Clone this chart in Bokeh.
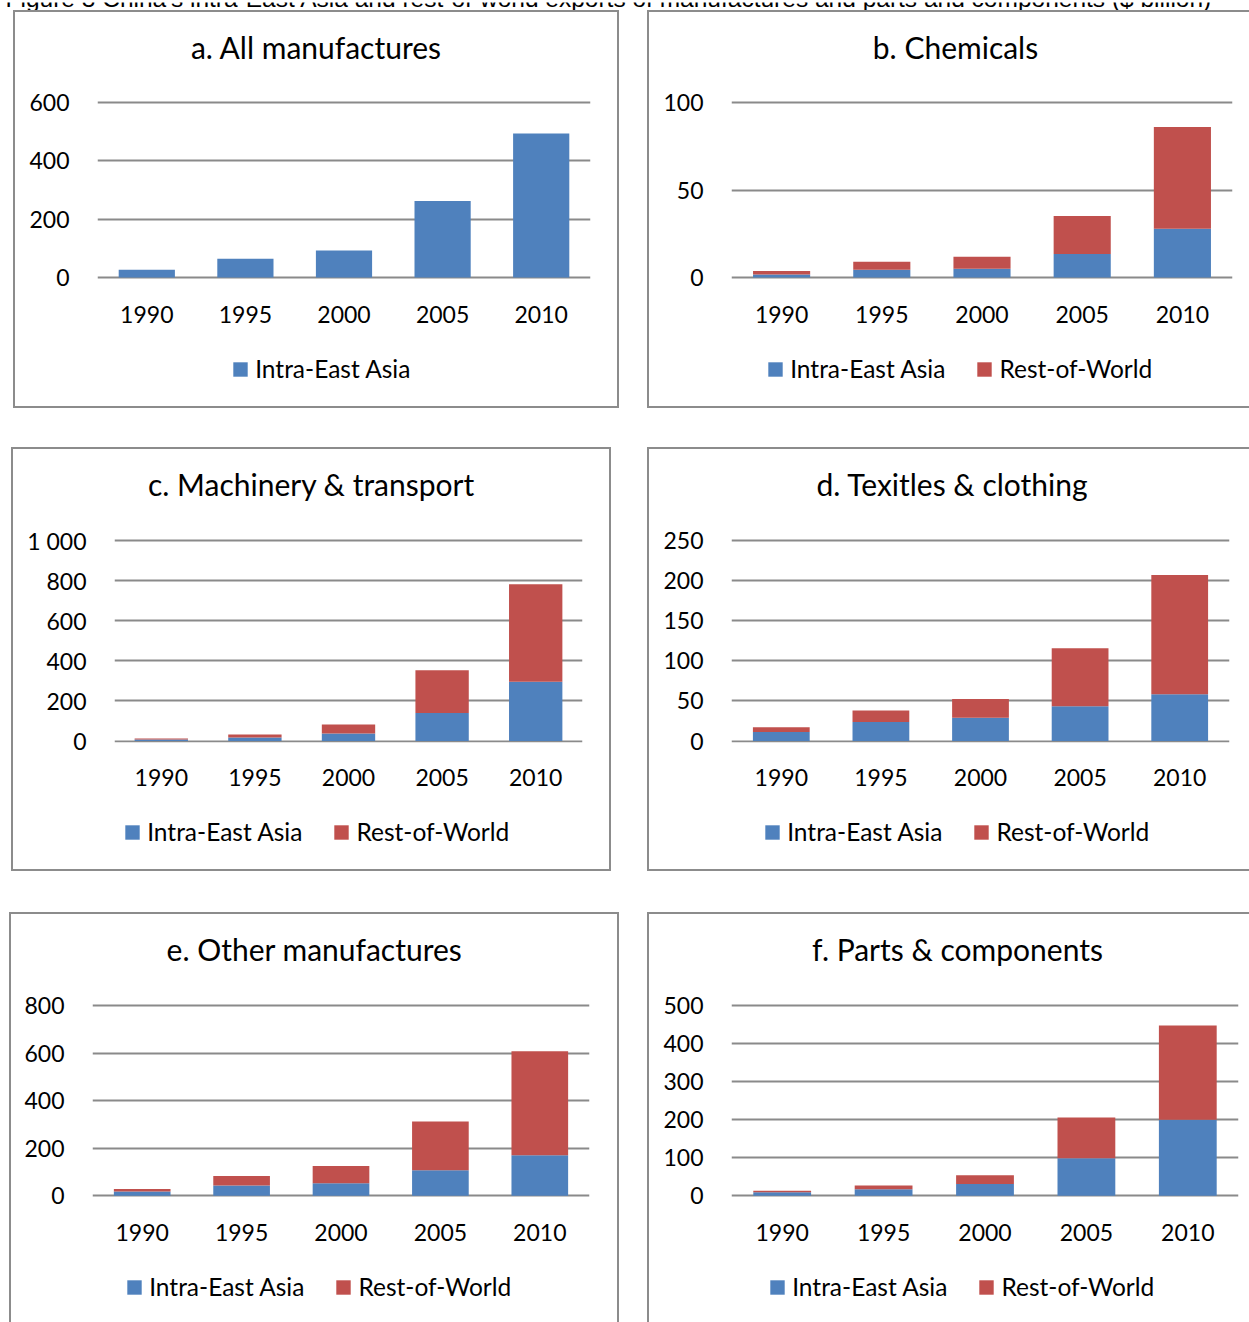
from bokeh.plotting import figure
from bokeh.layouts import column, row
from bokeh.models import (ColumnDataSource, FactorRange, Range1d, FixedTicker,
                          Legend, LegendItem, Spacer)
from bokeh.embed import file_html
from bokeh.resources import INLINE
from bokeh.core.properties import value

# ---------------------------------------------------------------- data ($ billion)
years = ["1990", "1995", "2000", "2005", "2010"]

all_intra = [27, 64, 93, 262, 494]

chem_intra = [1.7, 4.4, 5.0, 13.5, 27.8]
chem_row = [2.0, 4.6, 6.8, 21.6, 58.2]

mach_intra = [7, 17, 37, 140, 296]
mach_row = [5, 15, 45, 213, 486]

text_intra = [11.2, 23.7, 29.1, 43.3, 58.2]
text_row = [5.9, 14.2, 23.3, 72.3, 148.8]

other_intra = [18, 43, 53, 108, 171]
other_row = [11, 40, 72, 205, 438]

parts_intra = [9.5, 17, 31, 99, 200]
parts_row = [3.5, 10, 23, 107, 248]

series_names = ["Intra-East Asia", "Rest-of-World"]

ticks_all = [0, 200, 400, 600]
ticks_chem = [0, 50, 100]
ticks_mach = [0, 200, 400, 600, 800, 1000]
ticks_text = [0, 50, 100, 150, 200, 250]
ticks_other = [0, 200, 400, 600, 800]
ticks_parts = [0, 100, 200, 300, 400, 500]

caption = ("Figure 3 China's intra-East Asia and rest-of-world exports of "
           "manufactures and parts and components ($ billion)")

# ---------------------------------------------------------------- style
BLUE = "#4F81BD"
RED = "#C0504D"
GRID = "#8A8A8A"
BOX = "#8C8C8C"
FONT = "Lato"
TICK_SIZE = "23px"
LEGEND_SIZE = "24.5px"
TITLE_SIZE = "30px"
BW = 2          # box border width
LEG_H = 30      # rendered height of a legend row


def borders(sides):
    return {f"border-{s}": (f"{BW}px solid {BOX}" if s in sides else "none")
            for s in ("left", "top", "right", "bottom")}


def strip_fig(W, H, sides, mbl, mbr, fw):
    """Axis-less strip whose frame lines up with the chart frame below/above."""
    p = figure(width=W, height=H, output_backend="svg", toolbar_location=None,
               x_range=Range1d(0, fw), y_range=Range1d(H, 0),
               min_border_left=mbl, min_border_right=mbr,
               min_border_top=0, min_border_bottom=0,
               outline_line_color=None, title=None,
               x_axis_location=None, y_axis_location=None,
               background_fill_color="white", border_fill_color="white",
               styles=borders(sides))
    p.grid.visible = False
    return p


def make_panel(title, intra, rest, yticks, box, sides, gl, fw, gt, g0,
               title_cx, title_mid, leg_sq, leg_cy):
    L, T, R, B = box
    W = R - L
    stacked = rest is not None
    top_sides = tuple(s for s in sides if s != "bottom")
    mid_sides = tuple(s for s in sides if s in ("left", "right"))
    bot_sides = tuple(s for s in sides if s != "top")

    mbl = gl - (L + BW)
    mbr = W - mbl - fw

    # vertical split of the box: title strip / chart / legend strip
    y_chart = round(gt - 22)
    y_leg = round(g0 + 58)

    # --- title strip
    pt = strip_fig(W, y_chart - T, top_sides, mbl, mbr, fw)
    pt.text(x=[title_cx - gl], y=[title_mid - (T + BW)], text=[title],
            text_font=value(FONT), text_font_size=TITLE_SIZE, text_color="black",
            text_align="center", text_baseline="middle")

    # --- chart
    Hc = y_leg - y_chart
    ymax = yticks[-1]
    s = (g0 - gt) / ymax                       # px per unit
    f_top = round(gt - 2)
    f_bot = round(g0 + 2)
    p = figure(x_range=FactorRange(factors=years),
               y_range=Range1d(-(f_bot - g0) / s, ymax + (gt - f_top) / s),
               width=W, height=Hc, output_backend="svg", toolbar_location=None,
               title=None, min_border_left=mbl, min_border_right=mbr,
               min_border_top=f_top - y_chart, min_border_bottom=y_leg - f_bot,
               outline_line_color=None, background_fill_color="white",
               border_fill_color="white", styles=borders(mid_sides))

    src = ColumnDataSource(dict(year=years, intra=intra,
                                rest=rest if stacked else [0] * len(years)))
    if stacked:
        p.vbar_stack(["intra", "rest"], x="year", width=0.57, source=src,
                     fill_color=[BLUE, RED], line_color=None)
    else:
        p.vbar(x="year", top="intra", width=0.57, source=src,
               fill_color=BLUE, line_color=None)

    p.xaxis.axis_line_color = None
    p.xaxis.major_tick_line_color = None
    p.xaxis.minor_tick_line_color = None
    p.xaxis.major_label_text_font = FONT
    p.xaxis.major_label_text_font_size = TICK_SIZE
    p.xaxis.major_label_text_color = "black"
    p.xaxis.major_label_standoff = 20

    p.yaxis.ticker = FixedTicker(ticks=yticks)
    p.yaxis.axis_line_color = None
    p.yaxis.major_tick_line_color = None
    p.yaxis.minor_tick_line_color = None
    p.yaxis.major_label_text_font = FONT
    p.yaxis.major_label_text_font_size = TICK_SIZE
    p.yaxis.major_label_text_color = "black"
    p.yaxis.major_label_standoff = 22
    p.yaxis.major_label_overrides = {t: f"{t:,}".replace(",", " ") for t in yticks}

    p.xgrid.grid_line_color = None
    p.ygrid.ticker = FixedTicker(ticks=yticks)
    p.ygrid.grid_line_color = GRID
    p.ygrid.grid_line_width = 2

    # --- legend strip: swatch renderers hold a single undefined row, so only
    #     the legend swatch is painted
    Hl = B - y_leg
    pl = strip_fig(W, Hl, bot_sides, mbl, mbr, fw)
    colors = [BLUE, RED] if stacked else [BLUE]
    items = []
    for name, col in zip(series_names, colors):
        sw_src = ColumnDataSource(dict(x=[float("nan")], top=[float("nan")]))
        sw = pl.vbar(x="x", top="top", width=1, source=sw_src,
                     fill_color=col, line_color=None)
        items.append(LegendItem(label=name, renderers=[sw]))
    cy = leg_cy - y_leg
    pl.add_layout(Legend(items=items, orientation="horizontal",
                         location=(leg_sq - 1.8 - gl, Hl - cy - LEG_H / 2),
                         glyph_width=18, glyph_height=18, label_standoff=6,
                         spacing=30, padding=0, margin=0,
                         border_line_color=None, background_fill_alpha=0,
                         label_text_font=FONT, label_text_font_size=LEGEND_SIZE,
                         label_text_color="black", label_height=18))

    return column(pt, p, pl, spacing=0)


ALL = ("left", "top", "right", "bottom")
pa = make_panel("a. All manufactures", all_intra, None, ticks_all,
                (13, 10, 619, 408), ALL, 97, 493, 102, 277, 316, 46, 233, 368)
pb = make_panel("b. Chemicals", chem_intra, chem_row, ticks_chem,
                (647, 10, 1249, 408), ("left", "top", "bottom"),
                731, 501, 102, 277, 955, 46, 768, 368)
pc = make_panel("c. Machinery & transport", mach_intra, mach_row, ticks_mach,
                (11, 447, 611, 871), ALL, 114, 468, 540, 740.5, 311, 483, 125, 831)
pd = make_panel("d. Texitles & clothing", text_intra, text_row, ticks_text,
                (647, 447, 1249, 871), ("left", "top", "bottom"),
                731, 498, 540, 740.5, 952, 483, 765, 831)
pe = make_panel("e. Other manufactures", other_intra, other_row, ticks_other,
                (9, 912, 619, 1322), ("left", "top", "right"),
                92, 497, 1005.3, 1195.3, 314, 948, 127, 1286)
pf = make_panel("f. Parts & components", parts_intra, parts_row, ticks_parts,
                (647, 912, 1249, 1322), ("left", "top"),
                731, 507, 1005.3, 1195.3, 957, 948, 770, 1286)

# caption strip along the top edge
cap = figure(width=1249, height=10, x_range=Range1d(0, 1249), y_range=Range1d(10, 0),
             output_backend="svg", toolbar_location=None, min_border=0, title=None,
             outline_line_color=None, x_axis_location=None, y_axis_location=None)
cap.grid.visible = False
cap.text(x=[5], y=[-4.5], text=[caption], text_font=value("Liberation Sans"),
         text_font_size="24.5px", text_color="black", text_baseline="middle")

layout = column(
    cap,
    row(Spacer(width=13, height=398), pa, Spacer(width=28, height=398), pb),
    Spacer(width=1249, height=39),
    row(Spacer(width=11, height=424), pc, Spacer(width=36, height=424), pd),
    Spacer(width=1249, height=41),
    row(Spacer(width=9, height=410), pe, Spacer(width=28, height=410), pf),
)

open("out.html", "w").write(file_html(layout, INLINE))
